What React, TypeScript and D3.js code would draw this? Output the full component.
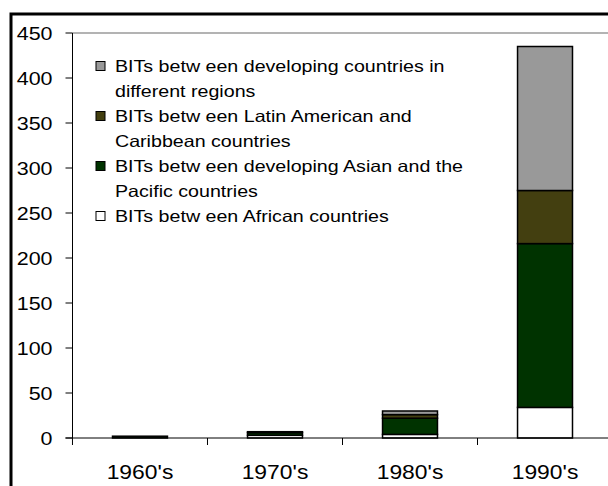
import React from 'react';
import * as d3 from 'd3';

// BITs concluded by decade
const decades = ["1960's", "1970's", "1980's", "1990's"];
const african = [0, 3, 4, 34];
const asianPacific = [2, 3, 18, 182];
const latinAmerican = [0, 1, 4, 59];
const interRegional = [0, 0, 4, 160];
const yTicks = [0, 50, 100, 150, 200, 250, 300, 350, 400, 450];

const seriesNames = ['african', 'asian', 'latin', 'inter'];
const seriesColors = ['#ffffff', '#003300', '#433f10', '#999999'];

const legendItems = [
  { key: 'inter', lines: ['BITs betw een developing countries in', 'different regions'] },
  { key: 'latin', lines: ['BITs betw een Latin American and', 'Caribbean countries'] },
  { key: 'asian', lines: ['BITs betw een developing Asian and the', 'Pacific countries'] },
  { key: 'african', lines: ['BITs betw een African countries'] },
];

const W = 608;
const H = 486;
const plot = { left: 72.5, right: 612.5, top: 33, bottom: 438 };
const font = '"Liberation Sans", Arial, sans-serif';

// the original export is stretched sideways, so text gets a horizontal scale
const Label = ({ x, y, size, sx, anchor = 'start', dy = '0', children }: any) => (
  <text
    transform={`translate(${x},${y}) scale(${sx},1)`}
    dy={dy}
    textAnchor={anchor}
    fontFamily={font}
    fontSize={size}
    fill="#000"
  >
    {children}
  </text>
);

export default function App() {
  const rows = decades.map((d, i) => ({
    decade: d,
    african: african[i],
    asian: asianPacific[i],
    latin: latinAmerican[i],
    inter: interRegional[i],
  }));

  const x = d3
    .scaleBand()
    .domain(decades)
    .range([plot.left, plot.right])
    .paddingInner(0.593)
    .paddingOuter(0.2963);
  const y = d3.scaleLinear().domain([0, 450]).range([plot.bottom, plot.top]);

  const stacked = d3.stack().keys(seriesNames)(rows as any);
  const color = d3.scaleOrdinal<string>().domain(seriesNames).range(seriesColors);

  const step = x.step();
  const boundaries = decades.map((d) => (x(d) as number) - (step - x.bandwidth()) / 2);

  return (
    <div style={{ position: 'absolute', left: 0, top: 0 }}>
      <svg width={W} height={H} style={{ display: 'block', background: '#fff' }}>
        {/* chart frame */}
        <rect x={11} y={14} width={W + 20} height={H + 20} fill="#fff" stroke="#000" strokeWidth={3} />
        {/* plot area top border */}
        <line x1={plot.left} x2={W + 10} y1={plot.top} y2={plot.top} stroke="#9a9a9a" strokeWidth={1.5} />

        {stacked.map((layer) => (
          <g key={layer.key} fill={color(layer.key)}>
            {layer.map((seg, i) =>
              seg[1] - seg[0] > 0 ? (
                <rect
                  key={i}
                  x={x(decades[i])}
                  y={y(seg[1])}
                  width={x.bandwidth()}
                  height={y(seg[0]) - y(seg[1])}
                  stroke="#000"
                  strokeWidth={1.5}
                />
              ) : null
            )}
          </g>
        ))}

        {/* y axis */}
        <line x1={plot.left} x2={plot.left} y1={plot.top} y2={plot.bottom} stroke="#000" strokeWidth={1} />
        {yTicks.map((t) => (
          <g key={t}>
            <line x1={plot.left - 7} x2={plot.left} y1={y(t)} y2={y(t)} stroke="#000" strokeWidth={1} />
            <Label x={52.5} y={y(t)} dy="0.36em" size={18.5} sx={1.16} anchor="end">
              {t}
            </Label>
          </g>
        ))}

        {/* x axis */}
        <line x1={plot.left - 7} x2={W} y1={plot.bottom} y2={plot.bottom} stroke="#000" strokeWidth={1} />
        {boundaries.map((bx, i) => (
          <line key={i} x1={bx} x2={bx} y1={plot.bottom} y2={plot.bottom + 7} stroke="#000" strokeWidth={1} />
        ))}
        {decades.map((d) => (
          <Label key={d} x={(x(d) as number) + x.bandwidth() / 2} y={479} size={21} sx={1.09} anchor="middle">
            {d}
          </Label>
        ))}

        {/* legend */}
        {legendItems.map((item, i) => {
          const cy = 66 + i * 50;
          return (
            <g key={item.key}>
              <rect x={96} y={cy - 4.5} width={9} height={9} fill={color(item.key)} stroke="#000" strokeWidth={1} />
              {item.lines.map((ln, j) => (
                <Label key={j} x={115} y={cy + j * 25} dy="0.36em" size={16.5} sx={1.19}>
                  {ln}
                </Label>
              ))}
            </g>
          );
        })}
      </svg>
    </div>
  );
}
